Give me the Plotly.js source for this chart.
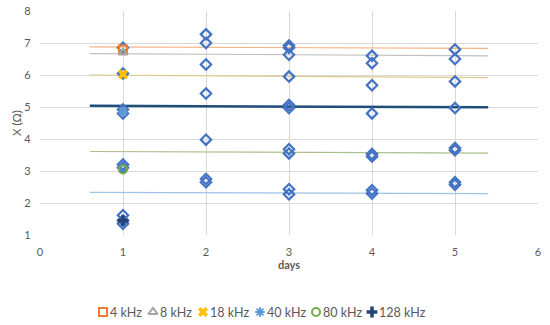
<!DOCTYPE html>
<html>
<head>
<meta charset="utf-8">
<script src="https://cdn.plot.ly/plotly-3.0.1.min.js"></script>
<style>html,body{margin:0;padding:0;background:#fff}#chart{width:550px;height:325px}</style>
</head>
<body>
<div id="chart"></div>
<script>
// Series names and markers at day 1
const seriesNames = ["4 kHz", "8 kHz", "18 kHz", "40 kHz", "80 kHz", "128 kHz"];
const seriesDay = [1, 1, 1, 1, 1, 1];
const seriesValues = [6.8, 6.7, 6.02, 4.85, 3.05, 1.45];

// All measurements (diamonds)
const measDays = [1,1,1,1,1,1,1,1,1,
                  2,2,2,2,2,2,2,
                  3,3,3,3,3,3,3,3,3,3,
                  4,4,4,4,4,4,4,4,
                  5,5,5,5,5,5,5,5];
const measValues = [6.85,6.05,4.92,4.8,3.2,3.1,1.62,1.45,1.35,
                    7.27,7.0,6.33,5.42,3.98,2.75,2.65,
                    6.92,6.85,6.63,5.95,5.06,4.97,3.68,3.55,2.43,2.27,
                    6.6,6.37,5.68,4.8,3.53,3.45,2.4,2.3,
                    6.8,6.5,5.8,4.97,3.72,3.65,2.65,2.57];

// Trendline endpoints
const trendX = [0.6, 5.4];
const trendStart = [6.88, 6.67, 6.0, 5.04, 3.61, 2.33];
const trendEnd = [6.83, 6.6, 5.92, 4.99, 3.56, 2.29];

const markerColors = ["#ED7D31", "#A5A5A5", "#FFC000", "#5B9BD5", "#70AD47", "#264478"];
const markerSymbols = ["square-open", "triangle-up-open", "x", "asterisk-open", "circle-open", "cross"];
const trendColors = ["#F4B183", "#BFBFBF", "#E0C98A", "#1F4E79", "#A9C08C", "#9DC3E6"];
const trendWidths = [1.2, 1.2, 1.2, 2.5, 1.2, 1.2];

// Layout constants (pixels) for the plot area and the hand-built legend
const W = 550, H = 325;
const plotL = 40, plotR = 538, plotT = 11, plotB = 235;
const legendCenters = [103, 153, 203, 260, 316, 372];
const legendY = 312;

function markerStyle(i) {
  const sym = markerSymbols[i];
  const open = sym.indexOf("open") >= 0;
  return {symbol: sym, size: open ? 8 : 9, color: markerColors[i],
          line: {width: open ? 2 : 0, color: markerColors[i]}};
}

const traces = [];
for (let i = 0; i < seriesNames.length; i++) {
  traces.push({
    x: trendX, y: [trendStart[i], trendEnd[i]], mode: "lines", showlegend: false,
    hoverinfo: "skip", line: {color: trendColors[i], width: trendWidths[i]}
  });
}
traces.push({
  x: measDays, y: measValues, mode: "markers", showlegend: false,
  marker: {symbol: "diamond-open", size: 8, color: "#4472C4", line: {width: 2.2, color: "#4472C4"}}
});
for (let i = 0; i < seriesNames.length; i++) {
  traces.push({
    x: [seriesDay[i]], y: [seriesValues[i]], mode: "markers", name: seriesNames[i],
    showlegend: false, marker: markerStyle(i)
  });
}
// legend symbols on an overlay pixel axis
const annotations = [];
for (let i = 0; i < seriesNames.length; i++) {
  traces.push({
    x: [legendCenters[i]], y: [legendY], xaxis: "x2", yaxis: "y2", mode: "markers",
    showlegend: false, hoverinfo: "skip", marker: markerStyle(i)
  });
  annotations.push({
    x: legendCenters[i] + 5, y: legendY, xref: "x2", yref: "y2", text: seriesNames[i],
    showarrow: false, xanchor: "left", yanchor: "middle",
    font: {family: "Lato, 'Open Sans', sans-serif", size: 12.5, color: "#595959"}
  });
}

const font = {family: "Lato, 'Open Sans', sans-serif", size: 11, color: "#595959"};
const layout = {
  width: W, height: H,
  margin: {l: 0, r: 0, t: 0, b: 0, pad: 0, autoexpand: false},
  paper_bgcolor: "#fff", plot_bgcolor: "rgba(0,0,0,0)",
  font: font, showlegend: false,
  xaxis: {
    domain: [plotL / W, plotR / W],
    range: [0, 6], dtick: 1, tick0: 0, showgrid: true, gridcolor: "#D9D9D9", gridwidth: 1,
    zeroline: false, showline: false, ticks: "", ticklabelstandoff: 9,
    tickfont: font, automargin: false,
    title: {text: "<b>days</b>", font: {family: font.family, size: 11, color: "#595959"}, standoff: 4}
  },
  yaxis: {
    domain: [(H - plotB) / H, (H - plotT) / H],
    range: [1, 8], dtick: 1, tick0: 1, showgrid: true, gridcolor: "#D9D9D9", gridwidth: 1,
    zeroline: false, showline: false, ticks: "", ticksuffix: "\u00a0\u00a0\u00a0",
    tickfont: font, automargin: false,
    title: {text: "X (Ω)", font: {family: font.family, size: 11.5, color: "#595959"}, standoff: 0}
  },
  xaxis2: {domain: [0, 1], range: [0, W], anchor: "y2", visible: false, fixedrange: true},
  yaxis2: {domain: [0, 1], range: [H, 0], anchor: "x2", visible: false, fixedrange: true},
  annotations: annotations
};
Plotly.newPlot("chart", traces, layout, {staticPlot: true, displayModeBar: false});
</script>
</body>
</html>
